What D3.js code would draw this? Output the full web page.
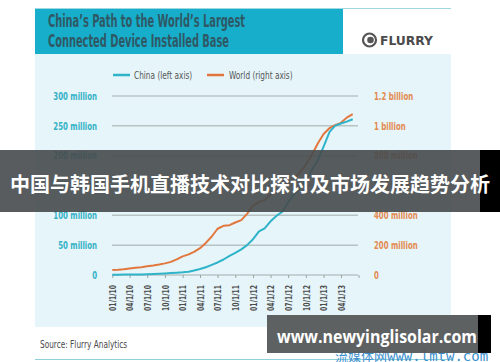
<!DOCTYPE html>
<html>
<head>
<meta charset="utf-8">
<script src="https://cdnjs.cloudflare.com/ajax/libs/d3/7.8.5/d3.min.js"></script>
<style>
  html, body { margin: 0; padding: 0; background: #fff; }
  svg { display: block; }
</style>
</head>
<body>
<script>
'use strict';

// months of the series, Jan 2010 .. Jun 2013
const months = [
  "2010-01","2010-02","2010-03","2010-04","2010-05","2010-06","2010-07","2010-08","2010-09","2010-10","2010-11","2010-12",
  "2011-01","2011-02","2011-03","2011-04","2011-05","2011-06","2011-07","2011-08","2011-09","2011-10","2011-11","2011-12",
  "2012-01","2012-02","2012-03","2012-04","2012-05","2012-06","2012-07","2012-08","2012-09","2012-10","2012-11","2012-12",
  "2013-01","2013-02","2013-03","2013-04","2013-05","2013-06"
];

// China installed base, millions (left axis)
const china = [
  0.5, 0.6, 0.7, 0.8, 0.9, 1.0, 1.2, 1.5, 2.0, 2.5, 3.2, 3.8,
  4.5, 5.5, 7.5, 10, 13, 17, 21, 26, 32, 37, 43, 50,
  60, 73, 78, 90, 99, 106, 122, 135, 146, 159, 176, 192,
  215, 240, 250, 254, 257, 261
];

// World installed base, millions (right axis)
const world = [
  34, 36, 39, 44, 48, 52, 58, 63, 70, 78, 88, 105,
  125, 138, 155, 180, 215, 258, 310, 330, 334, 352, 368, 410,
  465, 490, 502, 540, 565, 590, 615, 645, 690, 740, 805, 880,
  945, 985, 1005, 1020, 1055, 1078
];

const tickDates = [
  "2010-01","2010-04","2010-07","2010-10","2011-01","2011-04","2011-07","2011-10",
  "2012-01","2012-04","2012-07","2012-10","2013-01","2013-04","2013-07"
];
const tickLabels = [
  "01/1/10","04/1/10","07/1/10","10/1/10","01/1/11","04/1/11","07/1/11","10/1/11",
  "01/1/12","04/1/12","07/1/12","10/1/12","01/1/13","04/1/13",""
];

const leftTicks = [0, 50, 100, 150, 200, 250, 300];
const leftLabels = ["0", "50 million", "100 million", "150 million", "200 million", "250 million", "300 million"];
const rightTicks = [0, 200, 400, 600, 800, 1000, 1200];
const rightLabels = ["0", "200 million", "400 million", "600 million", "800 million", "1 billion", "1.2 billion"];

const seriesNames = ["China (left axis)", "World (right axis)"];

const COND = '"Liberation Sans Narrow", "DejaVu Sans Condensed", "Arial Narrow", sans-serif';
const TEAL = "#2fb3c9";
const ORANGE = "#e2773e";

const parse = d3.timeParse("%Y-%m");

// squeeze text horizontally to fake a narrow face
function narrow(sel, k) {
  sel.each(function() {
    let w = this.getComputedTextLength();
    if (w > 0) {
      d3.select(this).attr("textLength", w * k).attr("lengthAdjust", "spacingAndGlyphs");
    }
  });
}

const svg = d3.select("body").append("svg")
  .attr("width", 500)
  .attr("height", 362);

// frame: top rule, header, panel, footer rule
svg.append("line").attr("x1", 35).attr("x2", 451).attr("y1", 8.5).attr("y2", 8.5)
  .attr("stroke", "#9fd8e3").attr("stroke-width", 1);
svg.append("rect").attr("x", 35).attr("y", 54).attr("width", 416).attr("height", 273)
  .attr("fill", "#e6f5fa");
svg.append("rect").attr("x", 35).attr("y", 9).attr("width", 308).attr("height", 45)
  .attr("fill", "#17aecb");

svg.append("text").attr("x", 48).attr("y", 27)
  .attr("font-family", COND).attr("font-size", 17).attr("font-weight", "bold").attr("fill", "#2f5865")
  .attr("textLength", 197).attr("lengthAdjust", "spacingAndGlyphs")
  .text("China\u2019s Path to the World\u2019s Largest");
svg.append("text").attr("x", 48).attr("y", 47)
  .attr("font-family", COND).attr("font-size", 17).attr("font-weight", "bold").attr("fill", "#2f5865")
  .attr("textLength", 181).attr("lengthAdjust", "spacingAndGlyphs")
  .text("Connected Device Installed Base");

// flurry logo
const logo = svg.append("g");
logo.append("circle").attr("cx", 369.5).attr("cy", 40).attr("r", 6.5)
  .attr("fill", "none").attr("stroke", "#555").attr("stroke-width", 2.2);
logo.append("circle").attr("cx", 370.5).attr("cy", 40).attr("r", 3.3).attr("fill", "#555");
logo.append("text").attr("x", 380).attr("y", 44.5)
  .attr("font-family", "DejaVu Sans, sans-serif").attr("font-weight", "bold")
  .attr("font-size", 11.5).attr("fill", "#4a4a4a")
  .attr("textLength", 53).attr("lengthAdjust", "spacingAndGlyphs")
  .text("FLURRY");

// scales
const x = d3.scaleTime()
  .domain([parse("2010-01"), parse("2013-07")])
  .range([112.3, 358.5]);
const yL = d3.scaleLinear().domain([0, 300]).range([275, 96]);
const yR = d3.scaleLinear().domain([0, 1200]).range([275, 96]);

// gridlines
svg.append("g").selectAll("line")
  .data(leftTicks.slice(1))
  .enter().append("line")
  .attr("x1", 112).attr("x2", 358)
  .attr("y1", d => yL(d)).attr("y2", d => yL(d))
  .attr("stroke", "#b8c3c3").attr("stroke-width", 1.5);

// left labels
svg.append("g").selectAll("text")
  .data(leftTicks)
  .enter().append("text")
  .attr("x", 97).attr("y", d => yL(d))
  .attr("dy", "0.35em").attr("text-anchor", "end")
  .attr("font-family", COND).attr("font-size", 10.5).attr("font-weight", "bold").attr("fill", "#34b1c6")
  .text((d, i) => leftLabels[i])
  .call(narrow, 0.74);

// right labels
svg.append("g").selectAll("text")
  .data(rightTicks)
  .enter().append("text")
  .attr("x", 374).attr("y", d => yR(d))
  .attr("dy", "0.35em").attr("text-anchor", "start")
  .attr("font-family", COND).attr("font-size", 10.5).attr("font-weight", "bold").attr("fill", "#e3894f")
  .text((d, i) => rightLabels[i])
  .call(narrow, 0.74);

// x axis
const xAxis = d3.axisBottom(x)
  .tickValues(tickDates.map(parse))
  .tickSize(3)
  .tickFormat((d, i) => tickLabels[i]);
const gx = svg.append("g")
  .attr("transform", "translate(0,275)")
  .call(xAxis);
gx.select(".domain").attr("stroke", "#b8c3c3").attr("stroke-width", 1.5)
  .attr("d", "M112,0H358");
gx.selectAll(".tick line").attr("stroke", "#9aa5a5");
gx.selectAll(".tick text")
  .attr("font-family", COND).attr("font-size", 9.5).attr("font-weight", "bold").attr("fill", "#4d4d4d")
  .attr("transform", "rotate(-90)")
  .attr("text-anchor", "end")
  .attr("x", -10).attr("y", 0).attr("dy", "0.35em")
  .call(narrow, 0.72);

// series
const chinaLine = d3.line()
  .x((d, i) => x(parse(months[i])))
  .y(d => yL(d));
const worldLine = d3.line()
  .x((d, i) => x(parse(months[i])))
  .y(d => yR(d));

svg.append("path").datum(world)
  .attr("fill", "none").attr("stroke", ORANGE).attr("stroke-width", 2)
  .attr("stroke-linejoin", "round").attr("d", worldLine);
svg.append("path").datum(china)
  .attr("fill", "none").attr("stroke", TEAL).attr("stroke-width", 2)
  .attr("stroke-linejoin", "round").attr("d", chinaLine);

// legend
const legend = [
  { name: seriesNames[0], color: TEAL, x: 113, tx: 134 },
  { name: seriesNames[1], color: ORANGE, x: 207, tx: 229 }
];
const lg = svg.append("g").selectAll("g").data(legend).enter().append("g");
lg.append("line")
  .attr("x1", d => d.x).attr("x2", d => d.x + 17)
  .attr("y1", 75).attr("y2", 75)
  .attr("stroke", d => d.color).attr("stroke-width", 2.5);
lg.append("text")
  .attr("x", d => d.tx).attr("y", 75).attr("dy", "0.35em")
  .attr("font-family", COND).attr("font-size", 10.5).attr("fill", "#555")
  .text(d => d.name)
  .call(narrow, 0.78);

// footer
svg.append("text").attr("x", 40).attr("y", 348)
  .attr("font-family", COND).attr("font-size", 10.5).attr("fill", "#4a4a4a")
  .text("Source: Flurry Analytics")
  .call(narrow, 0.78);
svg.append("line").attr("x1", 35).attr("x2", 451).attr("y1", 359.5).attr("y2", 359.5)
  .attr("stroke", "#8fd0dd").attr("stroke-width", 1.2);

// watermark underneath the url box
svg.append("text").attr("x", 335).attr("y", 361)
  .attr("font-family", '"Noto Sans CJK SC", sans-serif').attr("font-size", 13).attr("fill", "#3b8fcc")
  .text("流媒体网");
svg.append("text").attr("x", 387).attr("y", 361)
  .attr("font-family", '"DejaVu Sans Mono", monospace').attr("font-size", 14).attr("fill", "#3b8fcc")
  .text("www.lmtw.com");

// overlay banner
svg.append("rect").attr("x", 0).attr("y", 150).attr("width", 480).attr("height", 62)
  .attr("fill", "rgba(70,74,76,0.9)");
svg.append("rect").attr("x", 480).attr("y", 150).attr("width", 20).attr("height", 62)
  .attr("fill", "#000");
svg.append("text").attr("x", 10).attr("y", 185).attr("dy", "0.35em")
  .attr("font-family", '"Noto Sans CJK SC", sans-serif').attr("font-weight", "bold")
  .attr("font-size", 20).attr("fill", "#fff")
  .attr("textLength", 480).attr("lengthAdjust", "spacingAndGlyphs")
  .text("中国与韩国手机直播技术对比探讨及市场发展趋势分析");

// url box
svg.append("rect").attr("x", 267).attr("y", 315).attr("width", 211).attr("height", 38)
  .attr("fill", "rgba(85,88,90,0.95)");
svg.append("rect").attr("x", 478).attr("y", 315).attr("width", 13).attr("height", 38)
  .attr("fill", "#000");
svg.append("text").attr("x", 277).attr("y", 343)
  .attr("font-family", '"Open Sans", "DejaVu Sans", sans-serif').attr("font-weight", "bold")
  .attr("font-size", 18).attr("fill", "#fff")
  .attr("textLength", 200).attr("lengthAdjust", "spacingAndGlyphs")
  .text("www.newyinglisolar.com");
</script>
</body>
</html>
